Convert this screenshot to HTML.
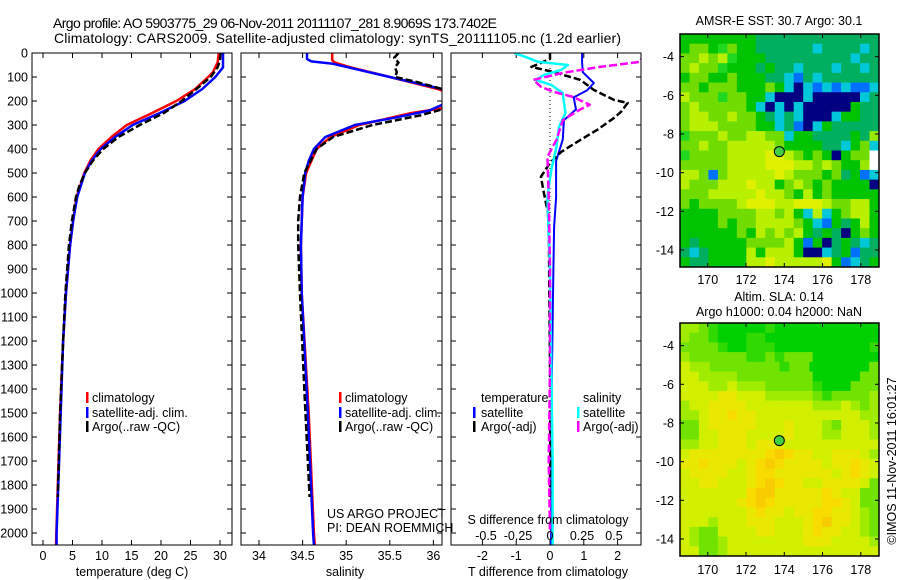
<!DOCTYPE html>
<html><head><meta charset="utf-8">
<style>
html,body{margin:0;padding:0;background:#fff;}
svg{display:block;font-family:"Liberation Sans",sans-serif;}
</style></head>
<body>
<svg id="chart" width="900" height="580" viewBox="0 0 900 580">
<text x="53" y="28" font-size="14" textLength="444">Argo profile: AO 5903775_29 06-Nov-2011 20111107_281 8.9069S 173.7402E</text>
<text x="54" y="43" font-size="14" textLength="567">Climatology: CARS2009. Satellite-adjusted climatology: synTS_20111105.nc (1.2d earlier)</text>
</svg>
<script>
// ---------- data ----------
const depthTicks=[0,100,200,300,400,500,600,700,800,900,1000,1100,1200,1300,1400,1500,1600,1700,1800,1900,2000];
const tempTicks=[0,5,10,15,20,25,30];
const salTicks=[34,34.5,35,35.5,36];
const salTickLabels=["34","34.5","35","35.5","36"];
const tdiffTicks=[-2,-1,0,1,2];
const sdiffTicks=[-0.5,-0.25,0,0.25,0.5];
const sdiffTickLabels=["-0.5","-0.25","0","0.25","0.5"];

const tClimDepth=[0,40,80,100,150,200,250,300,350,400,450,500,600,700,800,1000,1200,1500,1800,2050];
const tClimVal=[29.8,29.6,28.8,28.0,25.8,22.6,18.5,14.2,11.6,9.4,8.0,7.0,5.7,5.1,4.6,3.9,3.4,2.9,2.5,2.2];
const tSatDepth=[0,60,100,150,200,250,300,350,400,450,500,600,700,800,1000,1200,1500,1800,2000,2050];
const tSatVal=[30.5,30.5,29.2,27.0,24.0,19.8,15.2,12.2,9.8,8.2,7.1,5.8,5.1,4.6,3.9,3.4,3.0,2.6,2.3,2.3];
const tArgoDepth=[0,30,60,100,150,200,250,300,350,400,450,500,550,600,700,800,1000,1200,1500,1850];
const tArgoVal=[30.1,30.0,29.6,28.4,26.0,23.5,20.5,16.4,12.8,10.2,8.4,7.1,6.2,5.6,4.9,4.4,3.8,3.4,2.9,2.5];

const sClimDepth=[0,30,40,60,100,150,170,230,250,300,350,400,500,600,800,1000,1500,2000,2050];
const sClimVal=[34.84,34.84,34.87,35.05,35.5,36.05,36.2,36.1,35.75,35.15,34.82,34.66,34.54,34.5,34.48,34.49,34.57,34.63,34.64];
const sSatDepth=[0,25,35,45,100,150,200,240,270,300,350,400,450,500,600,800,1000,1500,2000,2050];
const sSatVal=[34.55,34.55,34.6,34.85,35.5,36.1,36.2,35.95,35.55,35.1,34.76,34.63,34.57,34.53,34.5,34.48,34.49,34.56,34.62,34.63];
const sArgoDepth=[0,20,40,60,80,100,120,150,200,230,260,300,350,400,500,600,700,800,1000,1400,1850];
const sArgoVal=[35.6,35.55,35.6,35.56,35.58,35.56,35.8,36.1,36.3,36.15,35.85,35.3,34.85,34.66,34.52,34.47,34.45,34.45,34.47,34.52,34.58];

const dtSatDepth=[0,40,80,125,155,185,235,280,360,450,600,725,900,1100,1400,1700,2050];
const dtSatVal=[0.95,0.95,0.97,1.3,1.1,0.7,0.77,0.41,0.38,0.18,0.18,0.12,0.1,0.08,0.05,0.04,0.03];
const dtArgoDepth=[0,25,58,79,112,154,196,208,245,270,320,362,412,458,516,583,667,800,1000,1300,1600,1850];
const dtArgoVal=[0,0,-0.55,0.1,0.9,1.3,1.9,2.3,2.1,1.9,1.4,0.9,0.33,0,-0.27,-0.18,-0.06,-0.03,-0.02,0,0.01,0];
const dsSatDepth=[0,15,37,50,70,92,112,133,167,250,308,392,487,600,900,1300,1700,2050];
const dsSatVal=[-0.28,-0.2,-0.09,0.14,0.09,-0.05,-0.11,0.01,0.1,0.12,0.07,0.05,0.01,-0.02,0.0,0.01,0.02,0.02];
const dsArgoDepth=[0,37,58,83,112,141,162,183,216,237,280,362,433,600,900,1300,1700,2000];
const dsArgoVal=[0.74,0.7,0.39,0.1,-0.13,-0.07,0.03,0.18,0.31,0.23,0.1,0.05,-0.02,-0.01,0,0,-0.01,0];

const lonTicks=[170,172,174,176,178];
const latTicks=[-4,-6,-8,-10,-12,-14];
const argoLon=173.74, argoLat=-8.91;
const sstGrid=[
"ggggggggttttttttttttt",
"gllgGlggttttttcttttct",
"llylyGgggtttttttttctt",
"lyllGgggtgttctttcttct",
"gllgglgggttcbtcttttt t".replace(' ',''),
"llglllggglgcBcbcbcbbct".slice(0,21),
"ylllGllggcBBBcBBBBBct",
"lylllllgcBcBcBBBBBgtt",
"lyyllyllgtctcBBBcggtt",
"lyyyllllggctbBcgtttt t".replace(' ',''),
"GlllyllyyllcggttttgtL",
"llyllyyyyylggggttcglc",
"GllllyyyyYYylglgBgllW",
"lllllyyyyYYYyylylggLW",
"yylblyyyyyYylllgltgbc",
"ylllyyyYyyglylglggggB",
"lllyyyyyYyylgyglggggg",
"lgllllyYYYyyYYYyllyyg",
"ggggllllyylygcycglyyg",
"gggglgllyyyylgcbgtgyg",
"gggggglgylylygtgtBglgb".slice(0,21),
"gtgggggllllygbgBtgtct",
"tctggggygyyygBBctgbtt",
"gttggggyyYyyyyyYgbctg"];
const slaGrid=[
"LLlGgggggGggggggggggg",
"LllGgggGGgggggggggggg",
"llllGggGGGggggggggggG",
"LllllllGGlGlllgggggggl".slice(0,21),
"yLLlllllllGllggggggl",
"yyLLLLllllllllgggggll",
"yyyLLyLLLlllllGggglll",
"yyyyYYyyyLLLLLlGllllL",
"LyyYYYYyyyyyyyLLLyLlL",
"LLyYYoYYyyyyyyyyyyyLL",
"llyYYYYYyyyYyyyLlyyyL",
"llyyYYYyyyyYyyyLLyyyL",
"LLyyYYYyYYYyyyyyyyyyy",
"yYYYYYYYYoOoYYyyYYYyL",
"YYoYYYyYoOoYYYYyYYoYy",
"yYYYYyyYooYYYYYYyYoYy",
"yyYYyyyYoOoYYyyYYYYyl",
"yyyyyyyoOOYYYYYoYyyll",
"yyyyyyYoOoYYYYYooYyll",
"yyyyyyyYoYYyYYooYYyLl",
"yyyLyyyYYYyyyYoOYYyLl",
"yLllyyyyYYyyyYoYYyyLl",
"yLllLyyyyyyyyYYYyyyyL",
"yyllLyyyyyyyyyyyyyyyy"];

// ---------- helpers ----------
const NS="http://www.w3.org/2000/svg";
const svg=document.getElementById('chart');
function el(tag,attrs,parent){const e=document.createElementNS(NS,tag);for(const k in attrs)e.setAttribute(k,attrs[k]);(parent||svg).appendChild(e);return e;}
const Y0=53, PXM=0.24;
function yD(d){return Y0+d*PXM;}
const BOT=545;
const xT=v=>43+v*5.9;
const xS=v=>259+(v-34)*87.2;
const xDT=v=>550+v*33.8;
const xDS=v=>550+v*128;

function panelFrame(x0,x1,name,showLabels,clipId){
  const g=el('g',{});
  
  
  const cp=el('clipPath',{id:clipId});
  el('rect',{x:x0,y:Y0,width:x1-x0,height:BOT-Y0},cp);
  depthTicks.forEach(d=>{
    const y=yD(d);
    el('line',{x1:x0,x2:x0+5,y1:y,y2:y,stroke:'#000'},g);
    el('line',{x1:x1-5,x2:x1,y1:y,y2:y,stroke:'#000'},g);
    if(showLabels){const t=el('text',{x:x0-4,y:y+4.5,'font-size':12.5,'text-anchor':'end'},g);t.textContent=d;
      
      }
  });
  return g;
}
function curve(xs,ds,fx,color,w,dash,clip,name){
  const pts=xs.map((v,i)=>fx(v).toFixed(1)+','+yD(ds[i]).toFixed(1)).join(' ');
  const p=el('polyline',{points:pts,fill:'none',stroke:color,'stroke-width':w,'clip-path':'url(#'+clip+')','stroke-linejoin':'round'});
  if(dash)p.setAttribute('stroke-dasharray',dash);
  
  
}
function xTicks(vals,labels,fx,x0,x1,ly,name){
  vals.forEach((v,i)=>{
    const x=fx(v);
    el('line',{x1:x,x2:x,y1:BOT,y2:BOT-5,stroke:'#000'});
    el('line',{x1:x,x2:x,y1:Y0,y2:Y0+5,stroke:'#000'});
    const t=el('text',{x:x,y:ly,'font-size':12.5,'text-anchor':'middle'});
    t.textContent=labels?labels[i]:v;
    
    
  });
}
function txt(x,y,s,size,name,anchor){const t=el('text',{x:x,y:y,'font-size':size,'text-anchor':anchor||'start'});t.textContent=s;
  
  return t;}
function legendMark(x,y,color,name){const r=el('rect',{x:x,y:y-10,width:2.5,height:11,fill:color});
  
  }

// ---------- panel 1: temperature ----------
panelFrame(32,232,'temperature-panel',true,'c1');
xTicks(tempTicks,null,xT,32,232,560,'temperature-tick-label');
curve(tClimVal,tClimDepth,xT,'#ff0000',2.5,null,'c1','temp-climatology-line');
curve(tSatVal,tSatDepth,xT,'#0000ff',2.5,null,'c1','temp-satellite-line');
curve(tArgoVal,tArgoDepth,xT,'#000',2.5,'7,3','c1','temp-argo-line');
el('rect',{x:32,y:Y0,width:200,height:BOT-Y0,fill:'none',stroke:'#000'});
txt(132,576,'temperature (deg C)',12.5,'temperature-axis-title','middle');
legendMark(86,402,'#ff0000','legend-climatology-marker');txt(92,402,'climatology',12.5,'legend-climatology');
legendMark(86,417,'#0000ff','legend-satellite-marker');txt(92,417,'satellite-adj. clim.',12.5,'legend-satellite');
legendMark(86,431,'#000','legend-argo-marker');txt(92,431,'Argo(..raw -QC)',12.5,'legend-argo');

// ---------- panel 2: salinity ----------
panelFrame(241,442,'salinity-panel',false,'c2');
xTicks(salTicks,salTickLabels,xS,241,442,560,'salinity-tick-label');
curve(sClimVal,sClimDepth,xS,'#ff0000',2.5,null,'c2','sal-climatology-line');
curve(sSatVal,sSatDepth,xS,'#0000ff',2.5,null,'c2','sal-satellite-line');
curve(sArgoVal,sArgoDepth,xS,'#000',2.5,'7,3','c2','sal-argo-line');
el('rect',{x:241,y:Y0,width:201,height:BOT-Y0,fill:'none',stroke:'#000'});
txt(345,576,'salinity',12.5,'salinity-axis-title','middle');
legendMark(339,402,'#ff0000','legend2-climatology-marker');txt(345,402,'climatology',12.5,'legend2-climatology');
legendMark(339,417,'#0000ff','legend2-satellite-marker');txt(345,417,'satellite-adj. clim.',12.5,'legend2-satellite');
legendMark(339,431,'#000','legend2-argo-marker');txt(345,431,'Argo(..raw -QC)',12.5,'legend2-argo');
txt(327,518,'US ARGO PROJECT',12.5,'project-label');
txt(327,532,'PI: DEAN ROEMMICH',12.5,'pi-label');

// ---------- panel 3: differences ----------
panelFrame(451,641,'difference-panel',false,'c3');
xTicks(tdiffTicks,null,xDT,451,641,560,'tdiff-tick-label');
el('line',{x1:xDT(0),x2:xDT(0),y1:Y0+15,y2:yD(1450),stroke:'#000','stroke-dasharray':'1,3'});
curve(dtSatVal,dtSatDepth,xDT,'#0000ff',2,null,'c3','tdiff-satellite-line');
curve(dtArgoVal,dtArgoDepth,xDT,'#000',2.5,'7,3','c3','tdiff-argo-line');
curve(dsSatVal,dsSatDepth,xDS,'#00ffff',2.5,null,'c3','sdiff-satellite-line');
curve(dsArgoVal,dsArgoDepth,xDS,'#ff00ff',2.5,'8,3','c3','sdiff-argo-line');
el('rect',{x:451,y:Y0,width:190,height:BOT-Y0,fill:'none',stroke:'#000'});
sdiffTicks.forEach((v,i)=>{const t=txt(xDS(v),540,sdiffTickLabels[i],12.5,'sdiff-tick-label','middle');});
txt(548,524,'S difference from climatology',12.5,'sdiff-axis-title','middle');
txt(548,576,'T difference from climatology',12.5,'tdiff-axis-title','middle');
txt(481,402,'temperature',12.5,'legend3-temperature-header');
txt(583,402,'salinity',12.5,'legend3-salinity-header');
legendMark(473,417,'#0000ff','legend3-tsat-marker');txt(481,417,'satellite',12.5,'legend3-tsat');
legendMark(473,431,'#000','legend3-targo-marker');txt(481,431,'Argo(-adj)',12.5,'legend3-targo');
legendMark(577,417,'#00ffff','legend3-ssat-marker');txt(583,417,'satellite',12.5,'legend3-ssat');
legendMark(577,431,'#ff00ff','legend3-sargo-marker');txt(583,431,'Argo(-adj)',12.5,'legend3-sargo');

// ---------- maps ----------
const sstColors={B:'#000080',b:'#0070ff',c:'#00c8d8',t:'#00b060',g:'#00c400',G:'#20d820',l:'#70dc00',L:'#98e800',y:'#b8f000',Y:'#e0f000',o:'#f0e000',W:'#ffffff'};
const slaColors={g:'#00d000',G:'#30da00',l:'#70e400',L:'#a0ec00',y:'#d0f000',Y:'#e8e800',o:'#f8dc00',O:'#f8cc00'};
const LON0=168.55, LON1=178.95, LAT0=-2.83, LAT1=-14.88;
function drawMap(top,bottom,grid,colors,name,lblY){
  const x0=680,x1=879;
  const lx=v=>x0+(v-LON0)/(LON1-LON0)*(x1-x0);
  const ly=v=>top+(v-LAT0)/(LAT1-LAT0)*(bottom-top);
  const g=el('g',{});
  
  
  const rows=grid.length;
  grid.forEach((row,i)=>{
    const cols=row.length;
    for(let j=0;j<cols;j++){
      const lo=LON0+j*(LON1-LON0)/cols, la=LAT0+i*(LAT1-LAT0)/rows;
      const xa=lx(lo), xb=lx(LON0+(j+1)*(LON1-LON0)/cols);
      const ya=ly(la), yb=ly(LAT0+(i+1)*(LAT1-LAT0)/rows);
      const r=el('rect',{x:xa.toFixed(2),y:ya.toFixed(2),width:(xb-xa+0.4).toFixed(2),height:(yb-ya+0.4).toFixed(2),fill:colors[row[j]]||'#00c400'},g);
      
      
    }
  });
  el('rect',{x:x0,y:top,width:x1-x0,height:bottom-top,fill:'none',stroke:'#000','stroke-width':1.5});
  lonTicks.forEach(v=>{const x=lx(v);
    el('line',{x1:x,x2:x,y1:bottom,y2:bottom-4,stroke:'#000'});
    el('line',{x1:x,x2:x,y1:top,y2:top+4,stroke:'#000'});
    txt(x,lblY,String(v),12.5,'map-lon-tick-label','middle');});
  latTicks.forEach(v=>{const y=ly(v);
    el('line',{x1:x0,x2:x0+4,y1:y,y2:y,stroke:'#000'});
    el('line',{x1:x1-4,x2:x1,y1:y,y2:y,stroke:'#000'});
    txt(x0-6,y+4.5,String(v),12.5,'map-lat-tick-label','end');});
  const c=el('circle',{cx:lx(argoLon),cy:ly(argoLat),r:5,fill:'#40d040',stroke:'#000','stroke-width':1});
  
  
}
drawMap(34,267,sstGrid,sstColors,'sst-map',284);
drawMap(323,556,slaGrid,slaColors,'sla-map',574);
txt(779,25,'AMSR-E SST: 30.7 Argo: 30.1',12.5,'sst-map-title','middle');
txt(779,301,'Altim. SLA: 0.14',12.5,'sla-map-title','middle');
txt(779,316,'Argo h1000: 0.04 h2000: NaN',12.5,'sla-map-subtitle','middle');
const rt=txt(0,0,'©IMOS 11-Nov-2011 16:01:27',12.5,'timestamp-label','middle');
rt.setAttribute('transform','translate(896,461) rotate(-90)');
</script>
</body></html>
